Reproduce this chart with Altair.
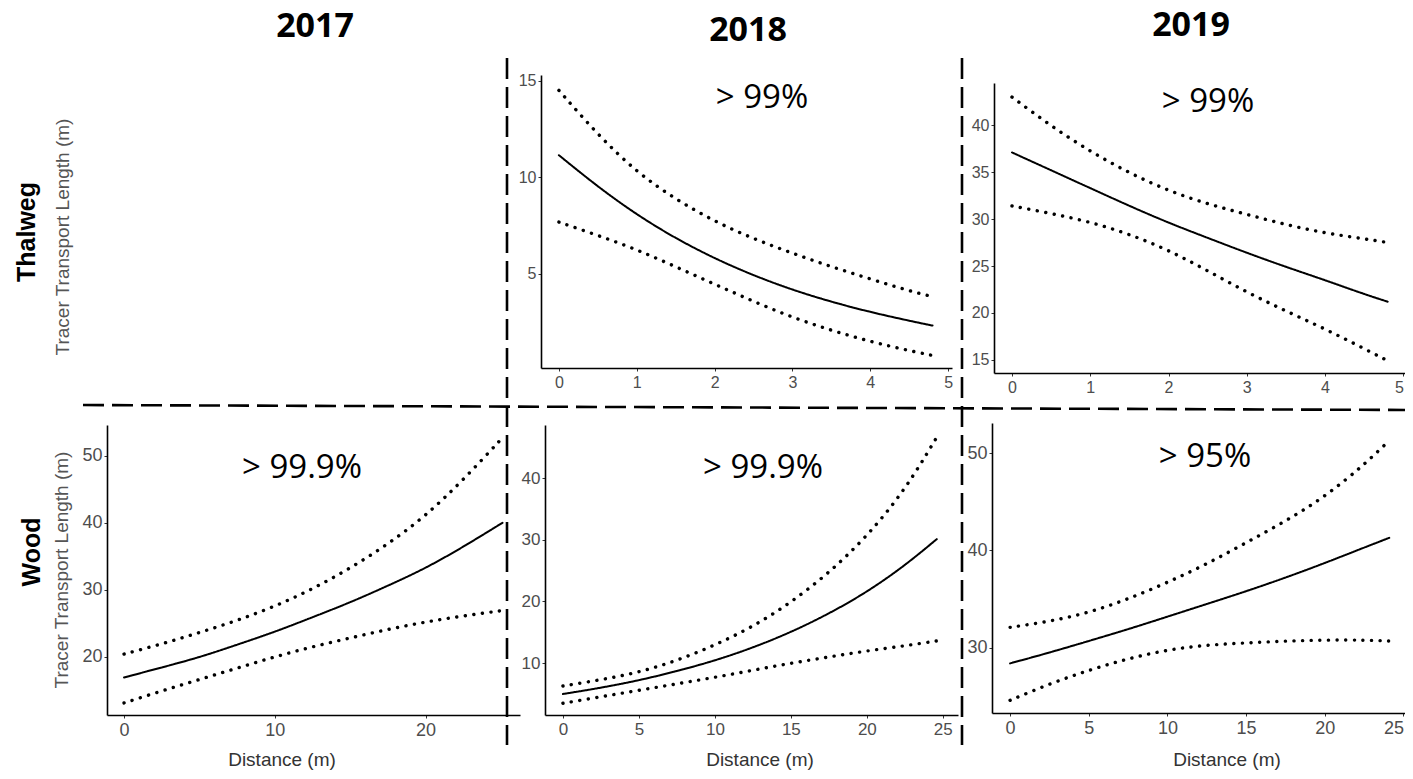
import altair as alt
import pandas as pd

M = 8            # page margin
W, H = 1397, 763  # drawing area

# ---------------- data ----------------
th_x = [0, 0.5, 1, 1.5, 2, 2.5, 3, 3.5, 4, 4.5, 4.8]
t18_fit = [11.14, 9.5, 8.05, 6.82, 5.78, 4.9, 4.15, 3.53, 3.0, 2.55, 2.3]
t18_up = [14.5, 12.2, 10.25, 8.85, 7.7, 6.8, 6.05, 5.35, 4.72, 4.1, 3.8]
t18_lo = [7.67, 6.98, 6.25, 5.35, 4.45, 3.55, 2.72, 2.05, 1.47, 1.0, 0.75]

t19_fit = [37.1, 35.2, 33.3, 31.4, 29.6, 28.0, 26.4, 24.9, 23.5, 22.0, 21.2]
t19_up = [43.0, 39.9, 37.2, 34.9, 33.0, 31.6, 30.5, 29.4, 28.5, 27.9, 27.5]
t19_lo = [31.4, 30.6, 29.7, 28.4, 26.7, 24.5, 22.2, 20.2, 18.3, 16.2, 14.9]

w17_x = [0, 2.5, 5, 7.5, 10, 12.5, 15, 17.5, 20, 22.5, 25.1]
w17_fit = [16.9, 18.4, 19.9, 21.8, 23.7, 25.9, 28.1, 30.6, 33.2, 36.4, 40.0]
w17_up = [20.4, 21.9, 23.6, 25.4, 27.5, 30.1, 33.2, 36.8, 41.0, 46.4, 52.7]
w17_lo = [13.1, 14.9, 16.6, 18.3, 20.0, 21.5, 22.8, 24.1, 25.2, 26.1, 26.9]

w18_x = [0, 2.5, 5, 7.5, 10, 12.5, 15, 17.5, 20, 22.5, 24.6]
w18_fit = [5.0, 6.0, 7.2, 8.7, 10.4, 12.5, 15.0, 18.0, 21.5, 25.8, 30.1]
w18_up = [6.3, 7.3, 8.5, 10.4, 12.9, 15.9, 19.8, 24.6, 30.5, 38.0, 46.6]
w18_lo = [3.5, 4.55, 5.6, 6.65, 7.7, 8.85, 10.0, 11.0, 12.0, 12.8, 13.6]

w19_x = [0, 2.5, 5, 7.5, 10, 12.5, 15, 17.5, 20, 22.5, 24.1]
w19_fit = [28.4, 29.5, 30.7, 31.9, 33.2, 34.5, 35.8, 37.2, 38.7, 40.3, 41.3]
w19_up = [32.1, 32.7, 33.6, 35.0, 36.7, 38.6, 40.8, 43.0, 45.5, 48.8, 51.3]
w19_lo = [24.6, 26.3, 27.7, 28.9, 29.8, 30.3, 30.5, 30.7, 30.8, 30.8, 30.7]

bands = ["fit", "upper", "lower"]

LABEL_FONT = "Liberation Sans"
TITLE_FONT = "Open Sans"


def panel(x, fit, up, lo, xdom, xpx, ydom, ypx, xticks, yticks, lsize,
          flush=False):
    n = len(x)
    df = pd.DataFrame({
        "x": list(x) * 3,
        "y": list(fit) + list(up) + list(lo),
        "band": [bands[0]] * n + [bands[1]] * n + [bands[2]] * n,
    })
    xs = alt.Scale(domain=xdom, range=[xpx[0] - M, xpx[1] - M], nice=False, zero=False)
    ys = alt.Scale(domain=ydom, range=[ypx[0] - M, ypx[1] - M], nice=False, zero=False)
    xaxis = alt.Axis(orient="bottom", offset=(ypx[0] - M) - H, values=xticks,
                     title=None, grid=False, labelFontSize=lsize,
                     labelFlush=6 if flush else False, labelPadding=3)
    yaxis = alt.Axis(orient="left", offset=-(xpx[0] - M), values=yticks,
                     title=None, grid=False, labelFontSize=lsize,
                     labelPadding=2)
    return alt.Chart(df).mark_line(
        color="black", interpolate="basis", strokeCap="round"
    ).encode(
        x=alt.X("x:Q", scale=xs, axis=xaxis),
        y=alt.Y("y:Q", scale=ys, axis=yaxis),
        detail="band:N",
        strokeDash=alt.StrokeDash(
            "band:N",
            scale=alt.Scale(type="ordinal", domain=bands,
                            range=[[1, 0], [0.1, 8.5], [0.1, 8.5]]),
            legend=None,
        ),
        strokeWidth=alt.StrokeWidth(
            "band:N",
            scale=alt.Scale(type="ordinal", domain=bands, range=[2, 3.4, 3.4]),
            legend=None,
        ),
    )


p_t18 = panel(th_x, t18_fit, t18_up, t18_lo, [-0.23, 5.05], [541, 952],
              [0.1, 15.3], [368, 75], [0, 1, 2, 3, 4, 5], [5, 10, 15], 16)
p_t19 = panel(th_x, t19_fit, t19_up, t19_lo, [-0.23, 5.06], [994, 1408],
              [13.6, 44.5], [373, 83], [0, 1, 2, 3, 4, 5],
              [15, 20, 25, 30, 35, 40], 16, flush=True)
p_w17 = panel(w17_x, w17_fit, w17_up, w17_lo, [-1.13, 26.26], [107, 520],
              [11.3, 54.6], [715, 425], [0, 10, 20], [20, 30, 40, 50], 18)
p_w18 = panel(w18_x, w18_fit, w18_up, w18_lo, [-1.18, 26.0], [545, 958],
              [1.6, 48.6], [715, 425], [0, 5, 10, 15, 20, 25],
              [10, 20, 30, 40], 17)
p_w19 = panel(w19_x, w19_fit, w19_up, w19_lo, [-1.15, 25.1], [992, 1405],
              [23.3, 53.1], [713, 423], [0, 5, 10, 15, 20, 25],
              [30, 40, 50], 18, flush=True)


def label(text, px, py, size, font=LABEL_FONT, weight="normal", angle=0,
          color="black", baseline="alphabetic"):
    return alt.Chart(pd.DataFrame({"t": [text]})).mark_text(
        font=font, fontSize=size, fontWeight=weight, angle=angle,
        color=color, align="center", baseline=baseline,
    ).encode(x=alt.value(px - M), y=alt.value(py - M), text="t:N")


texts = [
    label("2017", 315, 37, 34, font=TITLE_FONT, weight="bold"),
    label("2018", 748, 41, 34, font=TITLE_FONT, weight="bold"),
    label("2019", 1191, 36, 34, font=TITLE_FONT, weight="bold"),
    label("Thalweg", 27, 232, 25, weight="bold", angle=270, baseline="middle"),
    label("Wood", 32, 552, 25, weight="bold", angle=270, baseline="middle"),
    label("Tracer Transport Length (m)", 63, 237, 19, angle=270,
          color="#555555", baseline="middle"),
    label("Tracer Transport Length (m)", 62, 570, 19, angle=270,
          color="#555555", baseline="middle"),
    label("> 99%", 762, 108, 33, font=TITLE_FONT),
    label("> 99%", 1208, 112, 33, font=TITLE_FONT),
    label("> 99.9%", 302, 478, 33, font=TITLE_FONT),
    label("> 99.9%", 763, 478, 33, font=TITLE_FONT),
    label("> 95%", 1205, 467, 33, font=TITLE_FONT),
    label("Distance (m)", 282, 766, 19, color="#333333"),
    label("Distance (m)", 760, 766, 19, color="#333333"),
    label("Distance (m)", 1227, 766, 19, color="#333333"),
]


def dashed(x1, y1, x2, y2):
    return alt.Chart(pd.DataFrame({"k": [0]})).mark_rule(
        color="black", strokeWidth=2.6, strokeDash=[21, 8]
    ).encode(x=alt.value(x1 - M), y=alt.value(y1 - M),
             x2=alt.value(x2 - M), y2=alt.value(y2 - M))


rules = [
    dashed(83, 405, 1413, 410),
    dashed(507, 58, 507, 745),
    dashed(962, 58, 962, 745),
]

chart = alt.layer(
    p_t18, p_t19, p_w17, p_w18, p_w19, *rules, *texts
).resolve_scale(
    x="independent", y="independent"
).properties(
    width=W, height=H, padding=0,
    autosize=alt.AutoSizeParams(type="none"),
    background="white",
).configure_view(
    strokeWidth=0
).configure_axis(
    domainColor="black", domainWidth=1.6, tickColor="#333333", tickSize=3,
    tickWidth=1, labelColor="#4d4d4d", labelFont=LABEL_FONT,
)

chart.save("out.html", embed_options={"renderer": "svg", "actions": False})
